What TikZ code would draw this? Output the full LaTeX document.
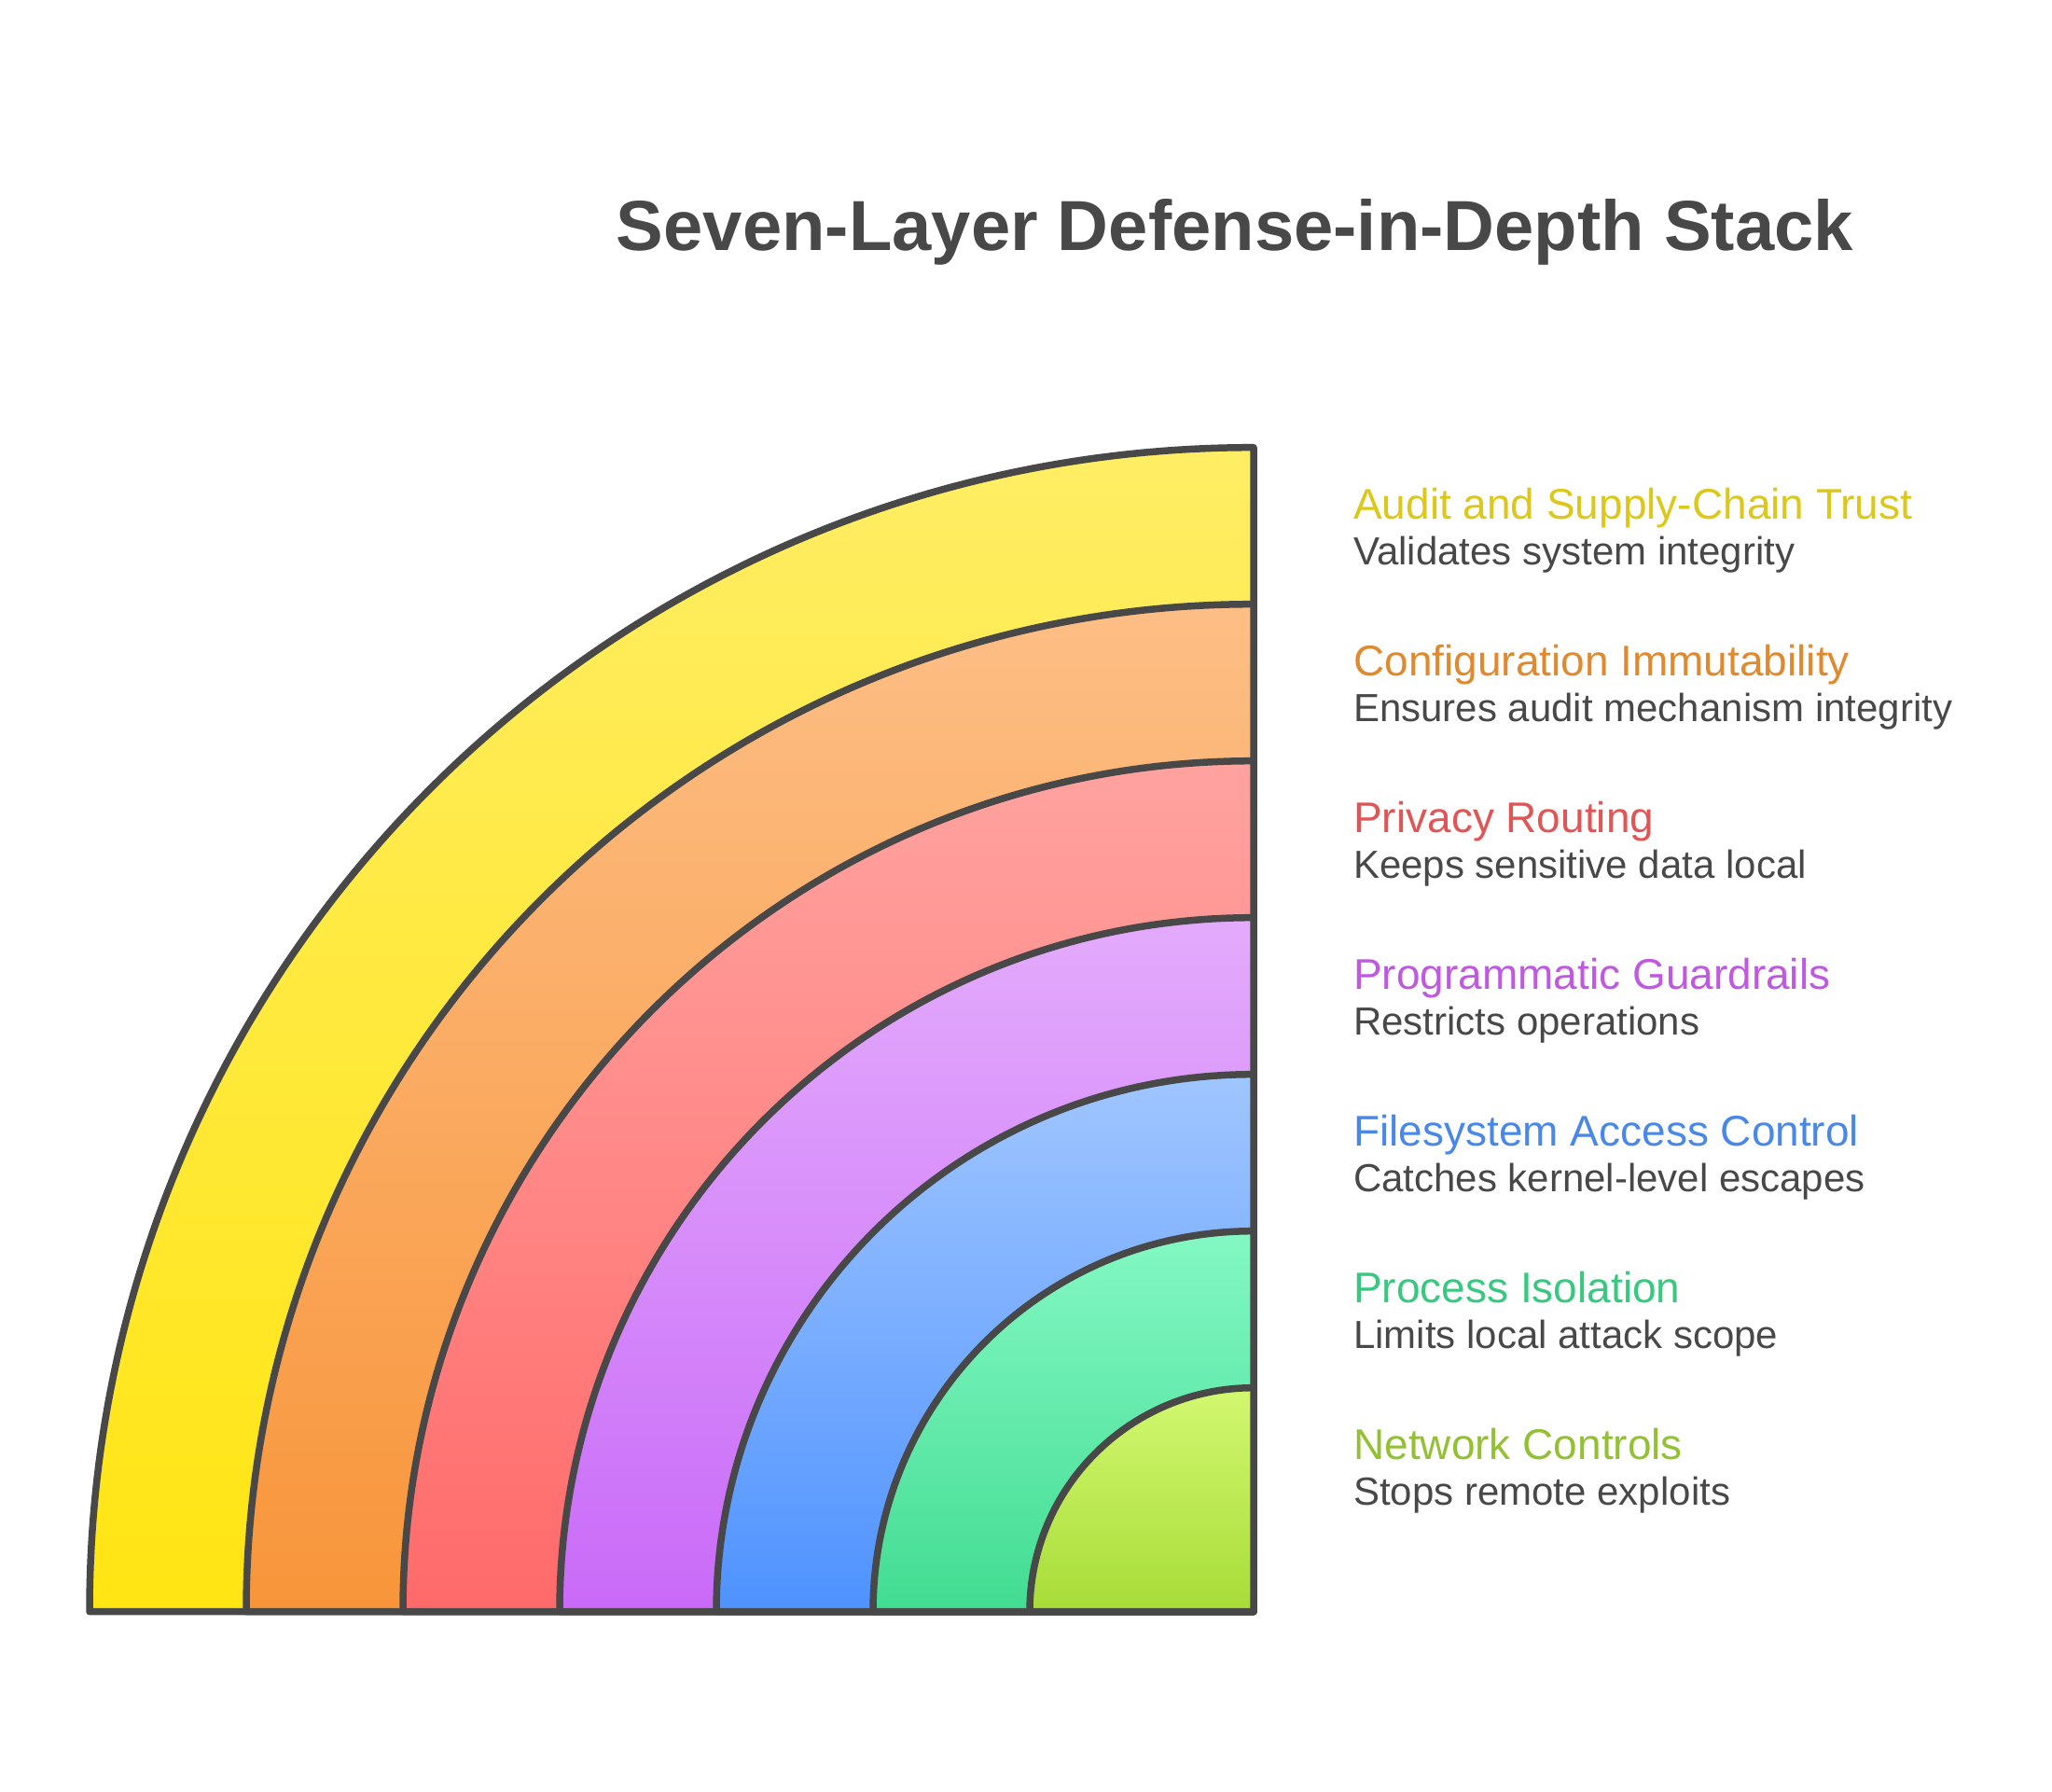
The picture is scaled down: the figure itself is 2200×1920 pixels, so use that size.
\documentclass[tikz,border=0pt]{standalone}
\usepackage{fontspec}
\setmainfont{Liberation Sans}
\begin{document}
\begin{tikzpicture}[x=1pt,y=1pt,
  band/.style={draw=edgegray, line width=7.5pt, line join=round},
  headtext/.style={anchor=base west, inner sep=0pt, font=\fontsize{46}{52}\selectfont},
  desctext/.style={anchor=base west, inner sep=0pt, text=edgegray, font=\fontsize{42}{48}\selectfont}]
\definecolor{edgegray}{HTML}{484848}
\definecolor{yT}{HTML}{FFED65}\definecolor{yB}{HTML}{FFE512}
\definecolor{oT}{HTML}{FDBE85}\definecolor{oB}{HTML}{F8953A}
\definecolor{rT}{HTML}{FFA3A0}\definecolor{rB}{HTML}{FF6A6A}
\definecolor{pT}{HTML}{E3ABFC}\definecolor{pB}{HTML}{C96AF8}
\definecolor{bT}{HTML}{A0C6FF}\definecolor{bB}{HTML}{4E92FF}
\definecolor{gT}{HTML}{84F8C4}\definecolor{gB}{HTML}{42DC92}
\definecolor{lT}{HTML}{D2F870}\definecolor{lB}{HTML}{A8DC38}
\definecolor{yText}{HTML}{DCC81A}
\definecolor{oText}{HTML}{E08A30}
\definecolor{rText}{HTML}{E05555}
\definecolor{pText}{HTML}{BF5AE0}
\definecolor{bText}{HTML}{4A88E8}
\definecolor{gText}{HTML}{38C880}
\definecolor{lText}{HTML}{94C034}
\useasboundingbox (0,0) rectangle (2200,1920);
\coordinate (c) at (1344,192.3);
% sectors, outermost first
\foreach \r/\ct/\cb in {1248/yT/yB,1080/oT/oB,912/rT/rB,744/pT/pB,576/bT/bB,408/gT/gB,240/lT/lB}{
  \path[band, top color=\ct, bottom color=\cb]
    (c) -- ++(-\r,0) arc[start angle=180,end angle=90,radius=\r] -- cycle;
}
% title
\node[anchor=base, inner sep=0pt, text=edgegray, font=\fontsize{76}{80}\selectfont\bfseries] (title) at (1324,1651.7) {Seven-Layer Defense-in-Depth Stack};
% labels
\node[headtext, text=yText] (h1) at (1451,1363.3) {Audit and Supply-Chain Trust};
\node[desctext] (d1) at (1451,1314.3) {Validates system integrity};
\node[headtext, text=oText] (h2) at (1451,1195.3) {Configuration Immutability};
\node[desctext] (d2) at (1451,1146.3) {Ensures audit mechanism integrity};
\node[headtext, text=rText] (h3) at (1451,1027.3) {Privacy Routing};
\node[desctext] (d3) at (1451,978.3) {Keeps sensitive data local};
\node[headtext, text=pText] (h4) at (1451,859.3) {Programmatic Guardrails};
\node[desctext] (d4) at (1451,810.3) {Restricts operations};
\node[headtext, text=bText] (h5) at (1451,691.3) {Filesystem Access Control};
\node[desctext] (d5) at (1451,642.3) {Catches kernel-level escapes};
\node[headtext, text=gText] (h6) at (1451,523.3) {Process Isolation};
\node[desctext] (d6) at (1451,474.3) {Limits local attack scope};
\node[headtext, text=lText] (h7) at (1451,355.3) {Network Controls};
\node[desctext] (d7) at (1451,306.3) {Stops remote exploits};
\end{tikzpicture}
\end{document}
